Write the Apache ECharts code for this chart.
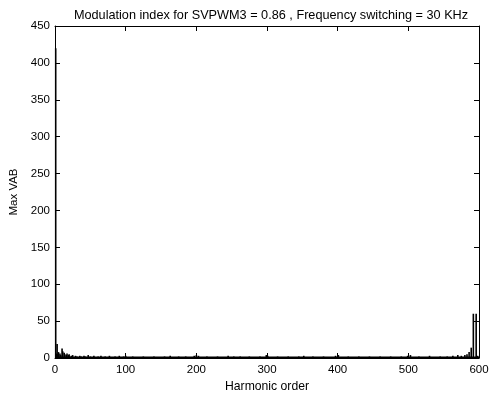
<!DOCTYPE html>
<html>
<head>
<meta charset="utf-8">
<script src="https://cdn.jsdelivr.net/npm/echarts@6/dist/echarts.min.js"></script>
<style>html,body{margin:0;padding:0;background:#fff}#c{width:492px;height:394px}</style>
</head>
<body>
<div id="c"></div>
<script>
const titleText = 'Modulation index for SVPWM3 = 0.86 , Frequency switching = 30 KHz';
const xTicks = [0, 100, 200, 300, 400, 500, 600];
const yTicks = [0, 50, 100, 150, 200, 250, 300, 350, 400, 450];
// harmonic orders with visible amplitude
const harmonics = [1, 2, 3, 4, 5, 7, 8, 10, 11, 13, 14, 16, 17, 19, 20, 23, 25, 29, 31, 35, 37, 41, 43, 47, 50, 55, 61, 65, 71, 77, 85, 91, 97, 100, 110, 125, 140, 155, 163, 175, 185, 197, 200, 203, 215, 230, 245, 253, 262, 275, 290, 299, 301, 315, 330, 345, 352, 365, 380, 397, 401, 415, 430, 445, 460, 475, 490, 499, 503, 515, 530, 545, 555, 563, 570, 575, 580, 583, 586, 589, 592, 596, 598];
const amplitudes = [420, 6, 19, 5, 8, 6, 4, 13, 9, 7, 5, 4, 6, 4, 5, 3, 4, 3, 2, 3, 2, 3, 2, 4, 2, 3, 2, 3, 2, 3, 2, 3, 2, 3, 2, 2, 2, 2, 3, 2, 2, 3, 4, 3, 2, 2, 3, 2, 2, 2, 2, 4, 3, 2, 2, 2, 3, 2, 2, 3, 4, 2, 2, 2, 2, 2, 2, 3, 4, 2, 3, 2, 2, 3, 4, 3, 4, 5, 8, 14, 60, 60, 3];

const data = harmonics.map((h, i) => [h, amplitudes[i]]);
const chart = echarts.init(document.getElementById('c'));
const font = 'Liberation Sans, Arial, sans-serif';
const axCommon = {
  min: 0,
  axisLine: {show: true, onZero: false, lineStyle: {color: '#000', width: 1}},
  axisTick: {show: true, inside: true, length: 5, lineStyle: {color: '#000'}},
  splitLine: {show: false}
};
chart.setOption({
  animation: false,
  backgroundColor: '#fff',
  title: {
    text: titleText, left: 266, top: 4, textAlign: 'center',
    textStyle: {fontFamily: font, fontSize: 12.7, fontWeight: 'normal', color: '#000'}
  },
  grid: {left: 55, right: 13, top: 26, bottom: 36, containLabel: false, outerBoundsMode: 'none'},
  xAxis: [
    Object.assign({}, axCommon, {
      type: 'value', position: 'bottom', max: 600, interval: 100,
      axisLabel: {color: '#000', fontFamily: font, fontSize: 11.5, margin: 6},
      name: 'Harmonic order', nameLocation: 'middle', nameGap: 22,
      nameTextStyle: {color: '#000', fontFamily: font, fontSize: 12.2}
    }),
    Object.assign({}, axCommon, {
      type: 'value', position: 'top', max: 600, interval: 100,
      axisLabel: {show: false}
    })
  ],
  yAxis: [
    Object.assign({}, axCommon, {
      type: 'value', position: 'left', max: 450, interval: 50,
      axisLabel: {color: '#000', fontFamily: font, fontSize: 11.5, margin: 5},
      name: 'Max VAB', nameLocation: 'middle', nameGap: 35,
      nameTextStyle: {color: '#000', fontFamily: font, fontSize: 11.5}
    }),
    Object.assign({}, axCommon, {
      type: 'value', position: 'right', max: 450, interval: 50,
      axisLabel: {show: false}
    })
  ],
  series: [{
    type: 'bar', xAxisIndex: 0, yAxisIndex: 0,
    data: data, barWidth: 1.6,
    itemStyle: {color: '#000'},
    silent: true
  }, {
    type: 'line', xAxisIndex: 0, yAxisIndex: 0,
    data: [[0, 0.8], [600, 0.8]], symbol: 'none',
    lineStyle: {color: '#000', width: 2}, silent: true
  }]
});
</script>
</body>
</html>
